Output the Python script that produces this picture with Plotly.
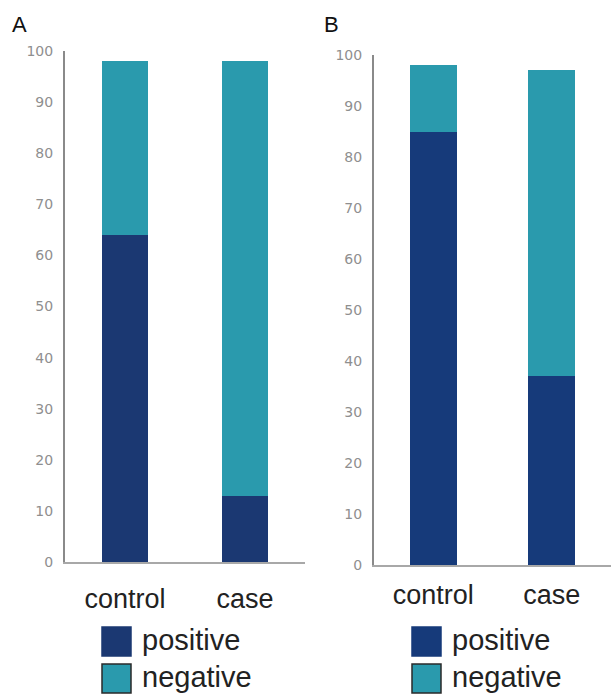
import plotly.graph_objects as go

# ---- data ----
categories = ["control", "case"]
series_names = ["positive", "negative"]
panel_a_positive = [64, 13]
panel_a_negative = [34, 85]
panel_b_positive = [85, 37]
panel_b_negative = [13, 60]
y_tick_values = [0, 10, 20, 30, 40, 50, 60, 70, 80, 90, 100]
y_tick_labels = ["0", "10", "20", "30", "40", "50", "60", "70", "80", "90", "100"]
panel_labels = ["A", "B"]

colors_a = ["#1b3872", "#2a9aad"]
colors_b = ["#163a7a", "#2a9aad"]

W, H = 611, 694

fig = go.Figure()
for vals, col, name in zip([panel_a_positive, panel_a_negative], colors_a, series_names):
    fig.add_trace(go.Bar(x=categories, y=vals, marker=dict(color=col, line=dict(width=0)),
                         width=0.39, name=name, showlegend=False, xaxis="x", yaxis="y"))
for vals, col, name in zip([panel_b_positive, panel_b_negative], colors_b, series_names):
    fig.add_trace(go.Bar(x=categories, y=vals, marker=dict(color=col, line=dict(width=0)),
                         width=0.40, name=name, showlegend=False, xaxis="x2", yaxis="y2"))

def px_x(p):
    return p / W

def px_y(p):
    return 1 - p / H

xcommon = dict(type="category", range=[-0.5, 1.5], showline=True, linecolor="#a8a8a8",
               linewidth=2, ticks="outside", tickcolor="rgba(0,0,0,0)",
               tickfont=dict(size=27, color="#222", family="Liberation Sans"),
               showgrid=False, zeroline=False, fixedrange=True, automargin=False)
ycommon = dict(range=[0, 100], tickvals=y_tick_values, ticktext=y_tick_labels,
               showline=True, linecolor="#8a8a8a", linewidth=2, ticks="outside",
               ticklen=7, tickcolor="rgba(0,0,0,0)",
               tickfont=dict(size=14, color="#8f8f8f", family="DejaVu Sans"),
               showgrid=False, zeroline=False, fixedrange=True, automargin=False)

fig.update_layout(
    width=W, height=H,
    margin=dict(l=0, r=0, t=0, b=0, autoexpand=False),
    paper_bgcolor="white", plot_bgcolor="white",
    barmode="stack", bargap=0,
    xaxis=dict(domain=[px_x(65), px_x(305)], anchor="y", ticklen=12, **xcommon),
    yaxis=dict(domain=[px_y(562), px_y(51)], anchor="x", **ycommon),
    xaxis2=dict(domain=[px_x(374), px_x(611)], anchor="y2", ticklen=5, **xcommon),
    yaxis2=dict(domain=[px_y(565), px_y(55)], anchor="x2", **ycommon),
    showlegend=False,
)

annotations = []
shapes = []
# panel letters
for lab, xp in zip(panel_labels, [10, 322]):
    annotations.append(dict(text=lab, x=px_x(xp), y=px_y(10), xref="paper", yref="paper",
                            xanchor="left", yanchor="top", showarrow=False,
                            font=dict(size=22, color="#111", family="Liberation Sans")))

# manual legends
legend_specs = [(102, colors_a), (412, colors_b)]
for x0, cols in legend_specs:
    for i, (name, col) in enumerate(zip(series_names, cols)):
        top = 627 + i * 37
        shapes.append(dict(type="rect", xref="paper", yref="paper",
                           x0=px_x(x0), x1=px_x(x0 + 29), y0=px_y(top + 29), y1=px_y(top),
                           fillcolor=col, line=dict(color="#2a2a2a" if i == 1 else col, width=1.5)))
        annotations.append(dict(text=name, x=px_x(x0 + 38), y=px_y(top + 13), xref="paper",
                                yref="paper", xanchor="left", yanchor="middle", showarrow=False,
                                font=dict(size=29, color="#222", family="Liberation Sans")))

fig.update_layout(annotations=annotations, shapes=shapes)
post = ("document.documentElement.style.margin='0';document.documentElement.style.padding='0';"
        "document.body.style.margin='0';document.body.style.padding='0';"
        "document.body.style.overflow='hidden';"
        "var d=document.getElementById('{plot_id}');d.style.position='fixed';"
        "d.style.left='0px';d.style.top='0px';")
fig.write_html("out.html", config={"displayModeBar": False}, post_script=post)
